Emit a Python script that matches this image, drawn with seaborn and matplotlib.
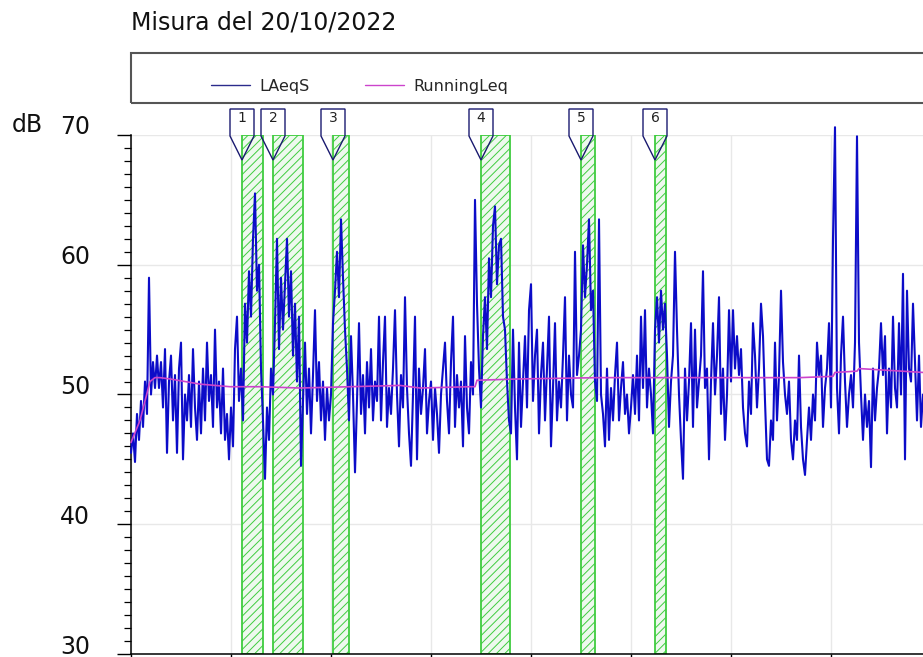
import numpy as np
import pandas as pd
import matplotlib
matplotlib.use("Agg")
import matplotlib.pyplot as plt
from matplotlib.patches import Polygon, Rectangle
from matplotlib.transforms import ScaledTranslation
import seaborn as sns

# ---------------- data ----------------
title = "Misura del 20/10/2022"
sample_step_s = 1.2  # seconds between LAeqS samples

laeqs_a = [45.5, 47.0, 44.8, 48.5, 46.5, 49.5, 47.5, 51.0, 48.5, 59.0,
           50.0, 52.5, 50.5, 53.0, 50.5, 52.5, 49.0, 53.5, 45.5, 51.0,
           53.0, 48.0, 51.5, 45.5, 52.0, 54.0, 45.0, 50.0, 48.0, 51.5,
           47.5, 53.5, 49.0, 46.5, 51.0, 47.0, 52.0, 48.0, 54.0, 49.5,
           51.5, 47.5, 55.0, 49.0, 51.0, 47.0, 52.0, 46.5, 48.5, 45.0]
laeqs_b = [49.0, 46.0, 53.5, 56.0, 49.5, 52.0, 48.0, 57.0, 54.0, 59.5,
           56.0, 62.0, 65.5, 58.0, 60.0, 52.0, 48.0, 43.5, 49.0, 46.5,
           52.0, 50.0, 55.5, 62.0, 53.5, 59.0, 55.0, 58.5, 62.0, 56.0,
           59.5, 53.0, 57.0, 51.0, 56.0, 44.5, 49.5, 54.0, 48.5, 52.0,
           47.0, 51.5, 56.5, 49.5, 52.5, 48.0, 51.0, 46.5, 50.5, 48.0]
laeqs_c = [50.0, 55.5, 58.0, 61.0, 57.5, 63.5, 59.0, 55.0, 52.0, 48.0,
           54.5, 50.0, 44.0, 49.5, 55.5, 48.5, 51.5, 47.0, 52.5, 49.0,
           53.5, 48.0, 51.0, 49.5, 56.0, 48.0, 52.5, 56.0, 47.5, 50.5,
           48.5, 52.0, 56.5, 50.0, 46.0, 51.5, 49.0, 57.5, 50.5, 47.0,
           44.5, 50.0, 56.0, 45.0, 52.0, 48.5, 50.5, 53.5, 47.0, 49.5]
laeqs_d = [51.0, 46.5, 50.5, 48.5, 45.5, 50.0, 52.0, 54.0, 49.5, 47.0,
           52.5, 56.0, 47.5, 51.5, 49.0, 51.0, 46.0, 54.5, 49.0, 47.0,
           52.5, 50.0, 65.0, 57.0, 52.0, 49.0, 54.5, 57.5, 53.5, 60.5,
           57.5, 63.0, 64.5, 58.5, 61.5, 62.0, 56.0, 55.0, 51.0, 48.0,
           47.0, 55.0, 49.0, 45.0, 54.0, 47.5, 51.0, 54.5, 49.0, 56.5]
laeqs_e = [58.5, 49.5, 53.0, 55.0, 47.0, 51.5, 54.0, 48.0, 52.0, 56.0,
           46.0, 50.5, 55.5, 48.0, 51.0, 49.0, 53.0, 57.5, 48.0, 53.0,
           50.0, 49.0, 61.0, 51.5, 53.0, 55.0, 61.5, 57.5, 60.0, 63.5,
           56.5, 58.0, 51.0, 49.5, 63.5, 50.0, 48.5, 46.0, 52.0, 46.5,
           50.5, 48.0, 51.5, 54.0, 48.0, 50.5, 52.5, 48.5, 50.0, 47.0]
laeqs_f = [49.0, 51.5, 48.5, 53.0, 48.0, 56.0, 50.5, 56.5, 49.0, 52.0,
           50.0, 47.0, 55.0, 57.5, 54.0, 58.0, 55.0, 57.0, 53.0, 47.5,
           51.0, 53.0, 61.0, 55.0, 50.0, 46.5, 43.5, 52.0, 48.0, 51.0,
           55.5, 47.5, 55.0, 49.0, 51.0, 53.0, 59.5, 50.5, 52.0, 45.0,
           51.0, 55.5, 50.0, 53.0, 57.5, 48.5, 52.0, 46.5, 50.0, 56.5]
laeqs_g = [51.0, 56.5, 52.0, 54.5, 51.5, 53.5, 49.0, 47.0, 46.0, 51.0,
           48.5, 55.5, 53.0, 49.0, 52.0, 57.0, 54.5, 49.5, 45.0, 44.5,
           48.0, 46.5, 54.0, 48.0, 51.5, 58.0, 52.5, 50.0, 48.5, 51.0,
           46.5, 45.0, 48.0, 46.5, 53.0, 47.5, 45.0, 43.8, 46.5, 49.0,
           46.5, 50.0, 48.0, 54.0, 51.5, 53.0, 47.5, 50.5, 52.0, 55.5]
laeqs_h = [49.0, 62.0, 70.6, 50.5, 47.0, 53.0, 56.0, 51.0, 47.5, 50.0,
           51.5, 49.0, 54.0, 69.9, 54.0, 50.0, 46.5, 50.0, 47.5, 49.5,
           44.4, 52.0, 48.0, 50.5, 52.0, 55.5, 51.5, 54.5, 47.0, 52.0,
           49.0, 56.0, 50.5, 49.0, 55.5, 50.0, 59.3, 45.0, 58.0, 52.0,
           51.0, 57.0, 52.5, 48.0, 53.0, 47.5, 50.0]

running_t = [0.0, 5.4, 8.4, 11.4, 14.4, 17.4, 23.4, 32.4, 41.4, 59.4,
             77.4, 101.4, 131.4, 161.4, 173.4, 203.4, 206.4, 207.6, 233.4,
             281.4, 341.4, 401.4, 421.2, 422.4, 435.6, 436.8, 449.4, 475.2]
running_v = [46.3, 48.0, 49.5, 51.0, 51.3, 51.3, 51.2, 51.0, 50.8, 50.6,
             50.6, 50.5, 50.6, 50.7, 50.5, 50.6, 50.6, 51.1, 51.2,
             51.3, 51.3, 51.3, 51.4, 51.7, 51.8, 52.0, 51.9, 51.7]

event_labels = ["1", "2", "3", "4", "5", "6"]
event_start = [66.6, 85.2, 121.2, 210.0, 270.0, 314.4]
event_end = [79.2, 103.2, 130.8, 227.4, 278.4, 321.0]

y_ticks = [30, 40, 50, 60, 70]

# ---------------- build frames ----------------
laeqs = laeqs_a + laeqs_b + laeqs_c + laeqs_d + laeqs_e + laeqs_f + laeqs_g + laeqs_h
t = np.arange(len(laeqs)) * sample_step_s
df_l = pd.DataFrame({"t": t, "dB": laeqs, "serie": "LAeqS"})
df_r = pd.DataFrame({"t": running_t, "dB": running_v, "serie": "RunningLeq"})

# ---------------- figure ----------------
sns.set_style("white")
plt.rcParams["font.family"] = ["DejaVu Sans"]
plt.rcParams["hatch.linewidth"] = 0.7

W, H = 923, 657
fig = plt.figure(figsize=(W / 100, H / 100), dpi=100)
ax = fig.add_axes([131 / W, 3 / H, (W - 131) / W, 519 / H])

blue = "#0c0cc8"
magenta = "#cc44cc"
green_edge = "#3fcc3f"
green_fill = "#eef9ee"

# event windows
for s, e in zip(event_start, event_end):
    ax.axvspan(s, e, facecolor=green_fill, edgecolor=green_edge,
               hatch="////", linewidth=1.3, zorder=1)

sns.lineplot(data=df_l, x="t", y="dB", ax=ax, color=blue, linewidth=1.5,
             estimator=None, sort=False, label="LAeqS", zorder=3)
sns.lineplot(data=df_r, x="t", y="dB", ax=ax, color=magenta, linewidth=1.2,
             estimator=None, sort=False, label="RunningLeq", zorder=4)
for ln in ax.lines:
    ln.set_clip_on(False)

ax.set_xlim(0, 475.2)
ax.set_ylim(30, 70)
ax.set_xlabel("")
ax.set_ylabel("")

# grid
ax.set_xticks(np.arange(0, 475.2, 60))
ax.set_xticklabels([])
ax.set_yticks(y_ticks)
ax.set_yticks(np.arange(30, 71, 1), minor=True)
ax.grid(True, which="major", color="#e8e8e8", linewidth=1.0, zorder=0)
ax.set_axisbelow(True)

for side in ["top", "right"]:
    ax.spines[side].set_visible(False)
for side in ["left", "bottom"]:
    ax.spines[side].set_color("black")
    ax.spines[side].set_linewidth(1.1)

ax.tick_params(axis="y", which="major", direction="out", length=10,
               width=1.0, color="black", pad=19.5, labelsize=17,
               labelcolor="#111111", left=True)
ax.tick_params(axis="y", which="minor", direction="out", length=5,
               width=0.9, color="black", left=True)
ax.tick_params(axis="x", which="major", direction="out", length=6,
               width=1.0, color="black", bottom=True)
ax.set_yticklabels([str(v) for v in y_ticks])
off = ScaledTranslation(0, 10 / 100, fig.dpi_scale_trans)
for lab in ax.get_yticklabels():
    lab.set_transform(lab.get_transform() + off)

# event flags
px_dB = 40 / 519  # dB per pixel
px_s = 475.2 / 792  # seconds per pixel
half = 12 * px_s
for lab, s in zip(event_labels, event_start):
    top = 70 + 26 * px_dB
    shoulder = 70 - 1 * px_dB
    tip = 70 - 25 * px_dB
    poly = Polygon([[s - half, top], [s + half, top], [s + half, shoulder],
                    [s, tip], [s - half, shoulder]], closed=True,
                   facecolor="none", edgecolor="#1a1a70", linewidth=1.0,
                   clip_on=False, zorder=6)
    ax.add_patch(poly)
    ax.text(s, 70 + 17 * px_dB, lab, ha="center", va="center",
            fontsize=10, color="#222222", clip_on=False, zorder=7)

# legend box and legend
fig.add_artist(Rectangle((131 / W, 1 - 103 / H), 1.0, 50 / H,
                         transform=fig.transFigure, facecolor="none",
                         edgecolor="#555555", linewidth=1.5))
handles, labels = ax.get_legend_handles_labels()
leg = ax.legend(handles, labels, ncol=2, frameon=False, fontsize=11.5,
                loc="center left", bbox_to_anchor=(211 / W, 1 - 86 / H),
                bbox_transform=fig.transFigure, borderpad=0,
                borderaxespad=0, handlelength=2.45, handletextpad=0.55,
                columnspacing=3.5)
leg_lines = leg.get_lines()
leg_lines[0].set_color("#2b2b8c")
for lh in leg_lines:
    lh.set_linewidth(1.0)

# titles
fig.text(131 / W, 1 - 22 / H, title, fontsize=17, ha="left", va="center",
         color="#111111")
fig.text(12 / W, 1 - 125 / H, "dB", fontsize=17, ha="left", va="center",
         color="#111111")

fig.savefig("out.png", dpi=100)
